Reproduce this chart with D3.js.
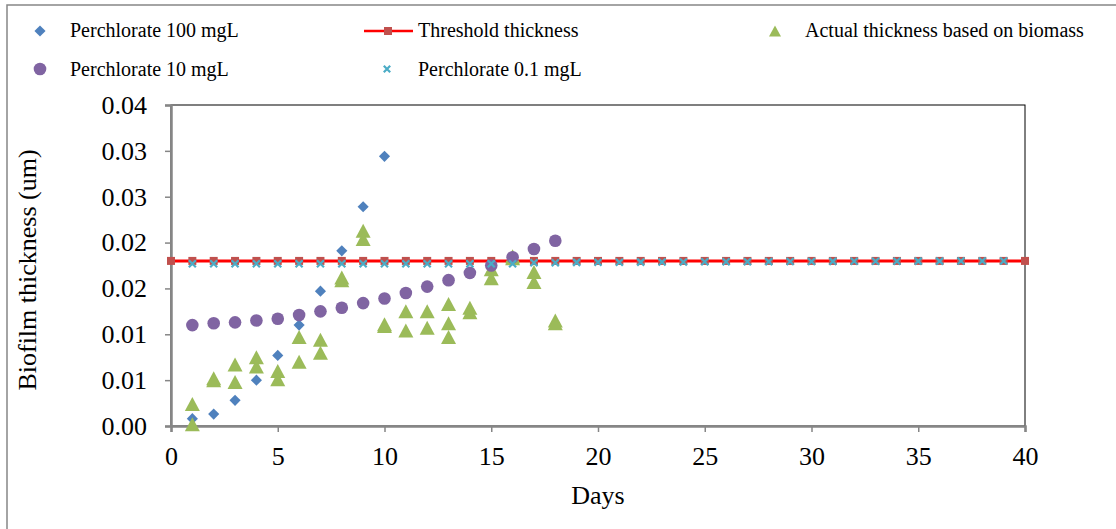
<!DOCTYPE html>
<html>
<head>
<meta charset="utf-8">
<script src="https://cdn.jsdelivr.net/npm/d3@7"></script>
<style>
  body { margin: 0; background: #fff; }
</style>
</head>
<body>
<svg id="chart" width="1116" height="529" font-family="'Liberation Serif', 'Times New Roman', 'DejaVu Serif', serif"></svg>
<script>
// series data
const days100 = [1, 2, 3, 4, 5, 6, 7, 8, 9, 10];
const perc100 = [0.0008, 0.0013, 0.0028, 0.0050, 0.0077, 0.0110, 0.0147, 0.0191, 0.0239, 0.0294];

const thresholdDays = d3.range(0, 41);
const thresholdValue = 0.018;

const actualDays = [1, 1, 2, 2, 3, 3, 4, 4, 5, 5, 6, 6, 7, 7, 8, 8, 9, 9, 10, 10,
  11, 11, 12, 12, 13, 13, 13, 14, 14, 15, 15, 16, 16, 17, 17, 18, 18];
const actualVals = [0.0024, 0.0002, 0.0052, 0.0050, 0.0067, 0.0048, 0.0075, 0.0065, 0.0060, 0.0051,
  0.0097, 0.0070, 0.0094, 0.0080, 0.0162, 0.0159, 0.0213, 0.0204, 0.0111, 0.0109,
  0.0125, 0.0104, 0.0125, 0.0107, 0.0133, 0.0112, 0.0097, 0.0129, 0.0124, 0.0171, 0.0161,
  0.0185, 0.0183, 0.0168, 0.0157, 0.0115, 0.0112];

const days10 = d3.range(1, 19);
const perc10 = [0.0110, 0.0112, 0.0113, 0.0115, 0.0117, 0.0121, 0.0125, 0.0129, 0.0134, 0.0139,
  0.0145, 0.0152, 0.0159, 0.0167, 0.0175, 0.0184, 0.0193, 0.0202];

const days01 = d3.range(1, 40);
const perc01 = [0.0177, 0.0177, 0.0177, 0.0177, 0.0177, 0.0177, 0.0177, 0.0177, 0.0177, 0.0177,
  0.0177, 0.0177, 0.0177, 0.0177, 0.0177, 0.0177, 0.0178, 0.0178, 0.01784, 0.01785,
  0.01786, 0.01787, 0.01788, 0.01789, 0.0179, 0.0179, 0.01791, 0.01792, 0.01793, 0.01794,
  0.01795, 0.01796, 0.01796, 0.01797, 0.01798, 0.01798, 0.01799, 0.01799, 0.018];

const yTicks = [0, 0.005, 0.01, 0.015, 0.02, 0.025, 0.03, 0.035];
const yTickLabels = ["0.00", "0.01", "0.01", "0.02", "0.02", "0.03", "0.03", "0.04"];
const xTicks = [0, 5, 10, 15, 20, 25, 30, 35, 40];

const colors = {
  p100: "#4F81BD", line: "#FF0000", square: "#C0504D",
  actual: "#9BBB59", p10: "#8064A2", p01: "#4BACC6"
};

const svg = d3.select("#chart");
const serif = svg.attr("font-family");
const plot = {left: 171, right: 1025, top: 105, bottom: 426};

const x = d3.scaleLinear().domain([0, 40]).range([plot.left, plot.right]);
const y = d3.scaleLinear().domain([0, 0.035]).range([plot.bottom, plot.top]);

// outer chart border
svg.append("rect")
  .attr("x", 7).attr("y", 5)
  .attr("width", 1130).attr("height", 540)
  .attr("fill", "#fff")
  .attr("stroke", "#868686").attr("stroke-width", 1.5);

// plot area box
svg.append("rect")
  .attr("x", plot.left).attr("y", plot.top)
  .attr("width", plot.right - plot.left).attr("height", plot.bottom - plot.top)
  .attr("fill", "none").attr("stroke", "#000").attr("stroke-width", 1);

// axes
const yAxis = svg.append("g")
  .attr("transform", `translate(${plot.left},0)`)
  .call(d3.axisLeft(y).tickValues(yTicks).tickSize(6).tickPadding(18)
    .tickFormat((d, i) => yTickLabels[i]))
  .attr("font-family", serif).attr("font-size", 26);
yAxis.select(".domain").attr("stroke", "#868686").attr("stroke-width", 2.5);
yAxis.selectAll(".tick line").attr("stroke", "#868686").attr("stroke-width", 1.5);

const xAxis = svg.append("g")
  .attr("transform", `translate(0,${plot.bottom})`)
  .call(d3.axisBottom(x).tickValues(xTicks).tickSize(6).tickPadding(15))
  .attr("font-family", serif).attr("font-size", 26);
xAxis.select(".domain").attr("stroke", "#868686").attr("stroke-width", 2.5);
xAxis.selectAll(".tick line").attr("stroke", "#868686").attr("stroke-width", 1.5);

// axis titles
svg.append("text")
  .attr("transform", `translate(36,270) rotate(-90)`)
  .attr("text-anchor", "middle")
  .attr("font-size", 26)
  .text("Biofilm thickness (um)");

svg.append("text")
  .attr("x", 598).attr("y", 504)
  .attr("text-anchor", "middle")
  .attr("font-size", 26)
  .text("Days");

// marker shapes
const diamondPath = d3.symbol().type(d3.symbolSquare).size(62);
function trianglePath(w, h) {
  return `M0,${-h / 2}L${w / 2},${h / 2}L${-w / 2},${h / 2}Z`;
}
function drawX(g, cx, cy, r) {
  g.append("path")
    .attr("d", `M${cx - r},${cy - r}L${cx + r},${cy + r}M${cx + r},${cy - r}L${cx - r},${cy + r}`)
    .attr("stroke", colors.p01).attr("stroke-width", 2.2).attr("fill", "none");
}

// series 1: perchlorate 100
svg.append("g").selectAll("path")
  .data(days100.map((d, i) => [d, perc100[i]]))
  .join("path")
  .attr("d", diamondPath)
  .attr("transform", d => `translate(${x(d[0])},${y(d[1])}) rotate(45)`)
  .attr("fill", colors.p100);

// series 2: threshold
const thr = thresholdDays.map(d => [d, thresholdValue]);
svg.append("path")
  .datum(thr)
  .attr("d", d3.line().x(d => x(d[0])).y(d => y(d[1])))
  .attr("stroke", colors.line).attr("stroke-width", 3).attr("fill", "none");
svg.append("g").selectAll("rect")
  .data(thr)
  .join("rect")
  .attr("x", d => x(d[0]) - 4).attr("y", d => y(d[1]) - 4)
  .attr("width", 8).attr("height", 8)
  .attr("fill", colors.square);

// series 3: actual thickness
svg.append("g").selectAll("path")
  .data(actualDays.map((d, i) => [d, actualVals[i]]))
  .join("path")
  .attr("d", trianglePath(15, 14))
  .attr("transform", d => `translate(${x(d[0])},${y(d[1])})`)
  .attr("fill", colors.actual);

// series 4: perchlorate 10
svg.append("g").selectAll("circle")
  .data(days10.map((d, i) => [d, perc10[i]]))
  .join("circle")
  .attr("cx", d => x(d[0])).attr("cy", d => y(d[1]))
  .attr("r", 6.3)
  .attr("fill", colors.p10);

// series 5: perchlorate 0.1
const gx = svg.append("g");
days01.forEach((d, i) => drawX(gx, x(d), y(perc01[i]), 3.5));

// legend
const legend = svg.append("g").attr("font-size", 20);
function legendText(tx, ty, label) {
  legend.append("text").attr("x", tx).attr("y", ty).text(label);
}
legend.append("path").attr("d", diamondPath)
  .attr("transform", "translate(40,31) rotate(45)").attr("fill", colors.p100);
legendText(70, 37, "Perchlorate 100 mgL");

legend.append("line").attr("x1", 364).attr("x2", 413).attr("y1", 31).attr("y2", 31)
  .attr("stroke", colors.line).attr("stroke-width", 2.5);
legend.append("rect").attr("x", 384).attr("y", 27).attr("width", 8).attr("height", 8)
  .attr("fill", colors.square);
legendText(418, 37, "Threshold thickness");

legend.append("path").attr("d", trianglePath(12, 11))
  .attr("transform", "translate(775,31)").attr("fill", colors.actual);
legendText(805, 37, "Actual thickness based on biomass");

legend.append("circle").attr("cx", 40).attr("cy", 69).attr("r", 6.3).attr("fill", colors.p10);
legendText(70, 76, "Perchlorate 10 mgL");

drawX(legend, 387, 69, 3.2);
legendText(418, 76, "Perchlorate 0.1 mgL");
</script>
</body>
</html>
